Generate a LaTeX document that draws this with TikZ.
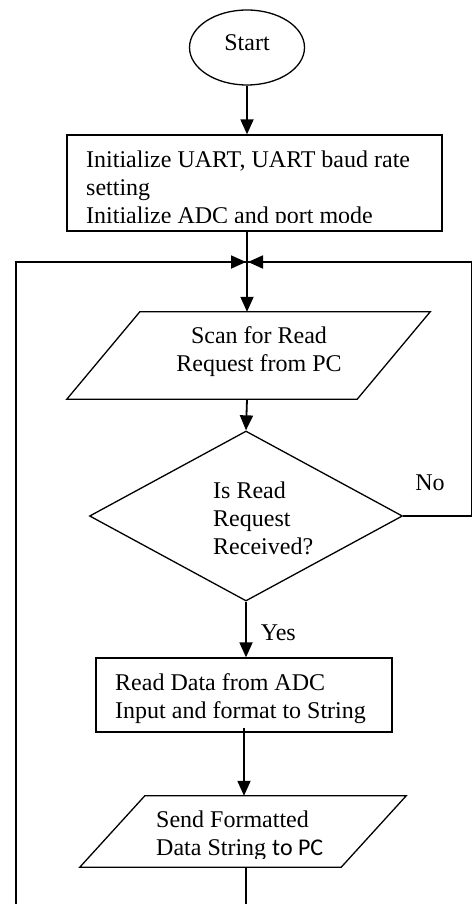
\documentclass[tikz,border=0pt]{standalone}
\usepackage{fontspec}
\setmainfont{Liberation Serif}
\newfontfamily\calibrifont{Carlito}
\usetikzlibrary{shapes.geometric,arrows.meta}

\begin{document}
\begin{tikzpicture}[x=1pt,y=-1pt,
  shapeline/.style={line width=1.3pt},
  conn/.style={line width=1.8pt},
  arr/.style={conn,-{Triangle[width=13pt,length=15pt]}},
  procbox/.style={shapeline,draw,rectangle,inner sep=0pt},
  iobody/.style={rectangle,inner sep=0pt},
  txt/.style={inner sep=0pt,font=\fontsize{24}{28}\selectfont},
]
\useasboundingbox (0,0) rectangle (473,904);

% terminal
\node[shapeline,draw,ellipse,minimum width=115pt,minimum height=75pt,
      inner sep=0pt,text depth=9pt,font=\fontsize{24}{28}\selectfont]
      (start) at (247,47.5) {Start};

% initialisation block
\node[procbox,minimum width=375pt,minimum height=96pt] (init) at (254.5,183) {};
\begin{scope}
  \clip (67,135) rectangle (442,222);
  \node[txt,anchor=north west,align=left] (inittext) at (86,150.6)
    {Initialize UART, UART baud rate\\setting\\Initialize ADC and port mode};
\end{scope}

% scan for request (input)
\node[iobody,minimum width=290pt,minimum height=87pt] (scan) at (248.5,355.5) {};
\draw[shapeline] ([xshift=36.5pt]scan.north west) -- ([xshift=36.5pt]scan.north east)
  -- ([xshift=-36.5pt]scan.south east) -- ([xshift=-36.5pt]scan.south west) -- cycle;
\node[txt,anchor=north,align=center] (scantext) at (259,326.6)
  {Scan for Read\\Request from PC};

% decision
\node[shapeline,draw,diamond,aspect=1.84,minimum width=313pt,minimum height=170pt,
      inner sep=0pt] (dec) at (246,516) {};
\node[txt,anchor=north west,align=left] (dectext) at (213,481.6)
  {Is Read\\Request\\Received?};

% read ADC
\node[procbox,minimum width=296pt,minimum height=74pt] (read) at (244,695) {};
\node[txt,anchor=north west,align=left] (readtext) at (115,673.6)
  {Read Data from ADC\\Input and format to String};

% send output
\node[iobody,minimum width=261pt,minimum height=71pt] (send) at (243,831.5) {};
\draw[shapeline] ([xshift=32.5pt]send.north west) -- ([xshift=32.5pt]send.north east)
  -- ([xshift=-32.5pt]send.south east) -- ([xshift=-32.5pt]send.south west) -- cycle;
\begin{scope}
  \clip (80,796) rectangle (406,858);
  \node[txt,anchor=north west,align=left] (sendtext) at (156,810.6)
    {Send Formatted\\Data String {\calibrifont to PC}};
\end{scope}

% connectors
\coordinate (junction) at (247,262);
\coordinate (loopleft) at (16,920);
\coordinate (loopright) at (471.5,516);

\draw[arr] (start.south -| junction) -- (init.north -| junction);
\draw[conn] (init.south -| junction) -- (junction);
\draw[arr] (junction) -- (junction |- scan.north);
\draw[arr] (junction |- scan.south) -- (dec.north);
\draw[arr] (dec.south) -- (dec.south |- read.north)
  node[pos=0.55,right=14pt,txt] (yes) {Yes};
\draw[arr] ([yshift=5pt]read.south) -- (read.south |- send.north);
\draw[conn] (send.south -| dec.south) -- (dec.south |- loopleft) -- (loopleft)
  |- ([xshift=-1pt]junction);
\draw[-{Triangle[width=13pt,length=15pt]},conn] (loopleft |- junction) -- ([xshift=-1pt]junction);
\draw[conn] (dec.east) -- (loopright) |- ([xshift=1pt]junction);
\draw[-{Triangle[width=13pt,length=15pt]},conn] (loopright |- junction) -- ([xshift=1pt]junction);

\node[txt] (no) at (430,483) {No};
\end{tikzpicture}
\end{document}
